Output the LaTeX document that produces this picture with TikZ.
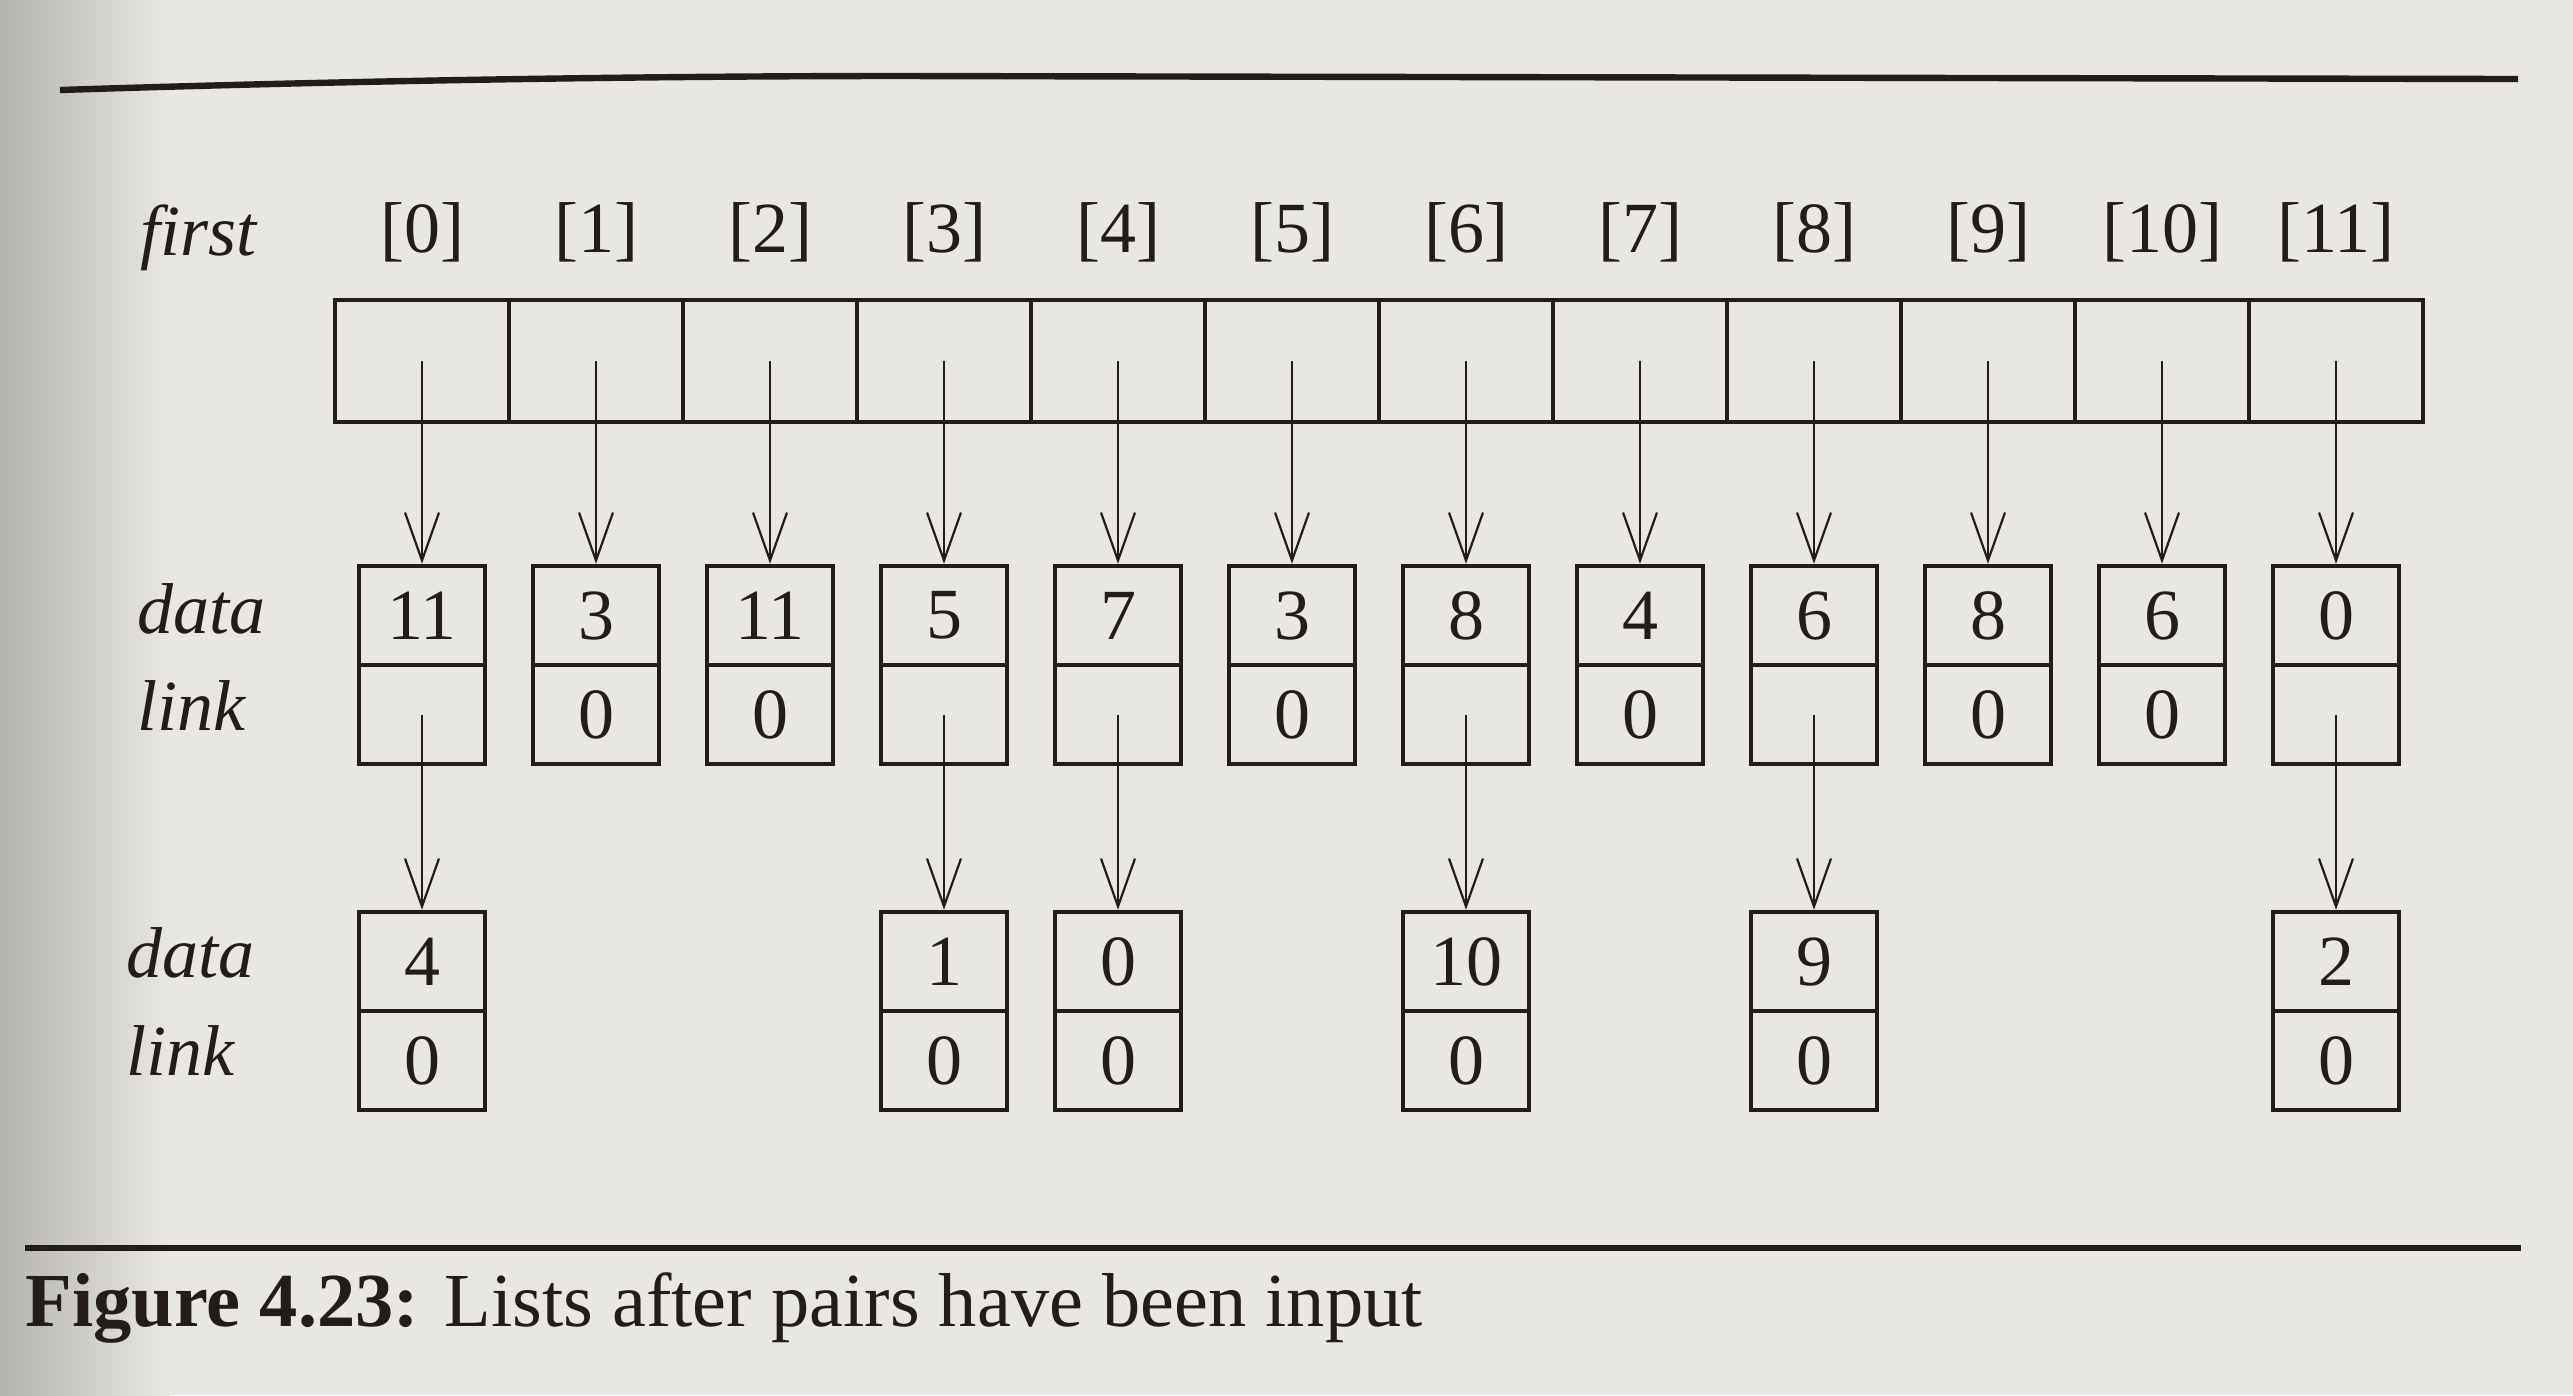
\documentclass[tikz,border=0pt]{standalone}
\usepackage{fontspec}
\setmainfont{Liberation Serif}
\usetikzlibrary{arrows.meta}
\definecolor{paper}{RGB}{232,231,226}
\definecolor{ink}{RGB}{36,28,26}
\begin{document}
\begin{tikzpicture}[x=0.25pt,y=-0.25pt,
  txt/.style={text=ink,inner sep=0pt,font=\fontsize{18}{18}\selectfont},
  arrcell/.style={draw=ink,line width=1pt,minimum width=43.5pt,minimum height=30.5pt,inner sep=0pt},
  cell/.style={draw=ink,line width=1.1pt,minimum width=31.5pt,minimum height=24.75pt,inner sep=0pt,text=ink,font=\fontsize{18}{18}\selectfont},
  ptr/.style={draw=ink,line width=0.55pt,-{Straight Barb[length=12pt,width=8.5pt,line width=0.55pt]}},
  rule/.style={draw=ink,line width=1.6pt}]
\useasboundingbox (0,0) rectangle (2573,1395);
\fill[paper] (0,0) rectangle (2573,1395);
\shade[left color=black!22!paper,right color=paper] (0,0) rectangle (170,1395);

% top rule
\draw[rule] (60,90) .. controls (400,79) and (700,76) .. (900,76) -- (2518,79);

% labels
\node[txt,anchor=base west] (first) at (140,255) {\textit{first}};
\foreach \i in {0,...,11}{
  \node[txt,anchor=base] (ix\i) at ({422+174*\i},252) {[\i]};
  \node[arrcell] (a\i) at ({422+174*\i},361) {};
}

% row 1
\foreach \i/\d/\l in {0/11/,1/3/0,2/11/0,3/5/,4/7/,5/3/0,6/8/,7/4/0,8/6/,9/8/0,10/6/0,11/0/}{
  \node[cell] (d\i) at ({422+174*\i},615.5) {\d};
  \node[cell] (l\i) at ({422+174*\i},714.5) {\l};
  \draw[ptr] (a\i.center) -- (d\i.north);
}
\node[txt,anchor=base west] (data1) at (137,633) {\textit{data}};
\node[txt,anchor=base west] (link1) at (137,730) {\textit{link}};

% row 2
\foreach \i/\d in {0/4,3/1,4/0,6/10,8/9,11/2}{
  \node[cell] (e\i) at ({422+174*\i},961.5) {\d};
  \node[cell] (m\i) at ({422+174*\i},1060.5) {0};
  \draw[ptr] (l\i.center) -- (e\i.north);
}
\node[txt,anchor=base west] (data2) at (126,977) {\textit{data}};
\node[txt,anchor=base west] (link2) at (126,1075) {\textit{link}};

% bottom rule and caption
\draw[rule] (25,1248) -- (2521,1248);
\node[txt,anchor=base west,font=\fontsize{19.1}{20}\selectfont] (cap) at (25,1326) {\textbf{Figure 4.23:} Lists after pairs have been input};
\end{tikzpicture}
\end{document}
